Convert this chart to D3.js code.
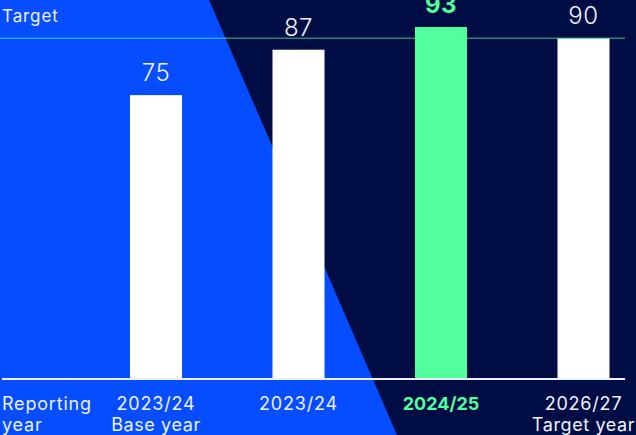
<!DOCTYPE html>
<html><head><meta charset="utf-8">
<script src="https://cdn.jsdelivr.net/npm/d3@7"></script>
<style>html,body{margin:0;padding:0;background:#000d44;overflow:hidden}svg{display:block}</style>
</head><body>
<svg id="chart" width="636" height="435"></svg>
<script>
const categories = ["2023/24", "2023/24", "2024/25", "2026/27"];
const subLabels = ["Base year", "", "", "Target year"];
const values = [75, 87, 93, 90];
const highlight = [false, false, true, false];
const targetValue = 90;
const axisTitle = ["Reporting", "year"];
const targetLabel = "Target";

const W = 636, H = 435;
const BLUE = "#064dff", NAVY = "#000d44", GREEN = "#52ff9f", TXT = "#eef1ff";
const FONT = "Inter, Lato, sans-serif";

const svg = d3.select("#chart");
svg.append("rect").attr("width", W).attr("height", H).attr("fill", NAVY);
svg.append("path").attr("d", "M0,0L209,0L397,435L0,435Z").attr("fill", BLUE);

const x = d3.scaleBand().domain(d3.range(categories.length))
  .range([84.75, 654.75]).paddingInner(0.635).paddingOuter(0.3175);
const y = d3.scaleLinear().domain([0, 100]).range([379, 0.5]);

// bars
svg.selectAll("rect.bar").data(values).join("rect").attr("class", "bar")
  .attr("x", (d, i) => x(i)).attr("width", x.bandwidth())
  .attr("y", d => y(d)).attr("height", d => y(0) - y(d))
  .attr("fill", (d, i) => highlight[i] ? GREEN : "#ffffff");

// target line
svg.append("line").attr("x1", 0).attr("x2", 625)
  .attr("y1", y(targetValue)).attr("y2", y(targetValue))
  .attr("stroke", GREEN).attr("stroke-opacity", 0.5).attr("stroke-width", 1.5);
svg.append("text").attr("x", 2).attr("y", 22).text(targetLabel)
  .attr("fill", TXT).attr("font-family", FONT).attr("font-size", 17)
  .attr("letter-spacing", 0.9);

// baseline
svg.append("line").attr("x1", 2).attr("x2", 625).attr("y1", 379).attr("y2", 379)
  .attr("stroke", TXT).attr("stroke-width", 2);

// value labels
svg.selectAll("text.val").data(values).join("text").attr("class", "val")
  .attr("x", (d, i) => x(i) + x.bandwidth() / 2)
  .attr("y", d => y(d) - 14)
  .attr("text-anchor", "middle")
  .attr("font-family", FONT).attr("font-size", 24)
  .attr("font-weight", (d, i) => highlight[i] ? 700 : 300)
  .attr("fill", (d, i) => highlight[i] ? GREEN : TXT)
  .attr("letter-spacing", 0.5)
  .text(d => d);

// category labels
const cat = svg.selectAll("g.cat").data(categories).join("g").attr("class", "cat")
  .attr("transform", (d, i) => `translate(${x(i) + x.bandwidth() / 2},0)`);
cat.append("text").attr("y", 410).attr("text-anchor", "middle")
  .attr("font-family", FONT).attr("font-size", 18)
  .attr("letter-spacing", (d, i) => highlight[i] ? 0 : 0.8)
  .attr("font-weight", (d, i) => highlight[i] ? 700 : 400)
  .attr("fill", (d, i) => highlight[i] ? GREEN : TXT).text(d => d);
cat.append("text").attr("y", 431).attr("text-anchor", "middle")
  .attr("font-family", FONT).attr("font-size", 18)
  .attr("letter-spacing", 0.6)
  .attr("fill", TXT).text((d, i) => subLabels[i]);

svg.selectAll("text.axt").data(axisTitle).join("text").attr("class", "axt")
  .attr("x", 2).attr("y", (d, i) => 410 + i * 21)
  .attr("font-family", FONT).attr("font-size", 18).attr("letter-spacing", 0.8)
  .attr("fill", TXT).text(d => d);
</script>
</body></html>
